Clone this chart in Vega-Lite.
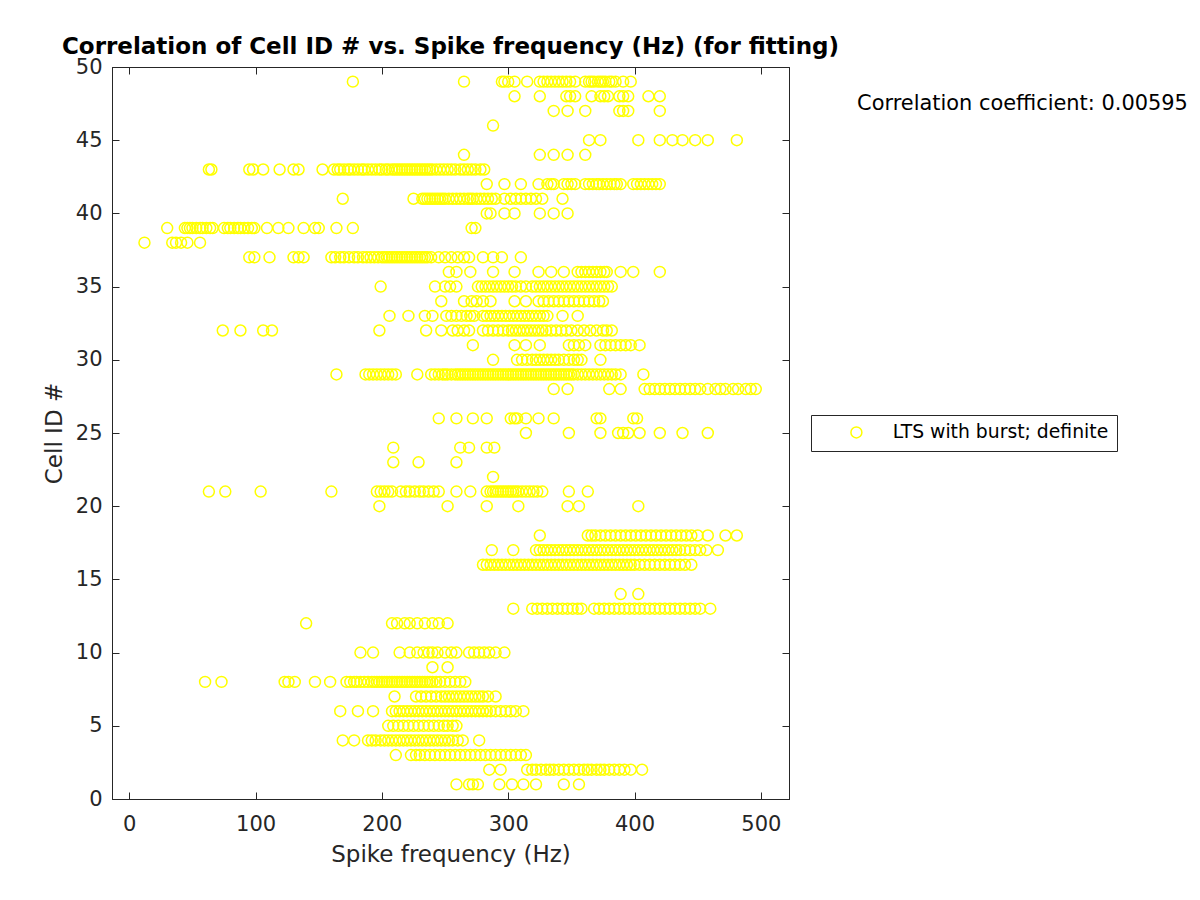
{
"$schema": "https://vega.github.io/schema/vega-lite/v6.json",
"width": 677, "height": 732,
"autosize": {"type": "none"},
"padding": {"left": 112, "top": 67, "right": 411, "bottom": 101},
"background": "white",
"title": {"text": "Correlation of Cell ID # vs. Spike frequency (Hz) (for fitting)", "font": "DejaVu Sans", "fontSize": 23, "fontWeight": "bold", "color": "black", "anchor": "middle", "offset": -3},
"config": {
  "font": "DejaVu Sans",
  "view": {"stroke": "#262626", "strokeWidth": 1},
  "axis": {"grid": false, "domainColor": "#262626", "tickColor": "#262626", "labelColor": "#262626", "titleColor": "#262626", "labelFont": "DejaVu Sans", "titleFont": "DejaVu Sans", "labelFontSize": 21, "titleFontSize": 23, "titleFontWeight": "normal", "tickSize": -7}
},
"layer": [
{
"data": {"values": [
{"id":49,"hz":177},{"id":49,"hz":265},{"id":49,"hz":295},{"id":49,"hz":297},{"id":49,"hz":300},{"id":49,"hz":305},{"id":49,"hz":315},{"id":49,"hz":325},{"id":49,"hz":328},{"id":49,"hz":331},{"id":49,"hz":334},{"id":49,"hz":337},{"id":49,"hz":340},{"id":49,"hz":343},{"id":49,"hz":346},{"id":49,"hz":349},{"id":49,"hz":353},{"id":49,"hz":361},{"id":49,"hz":364},{"id":49,"hz":366},{"id":49,"hz":368},{"id":49,"hz":371},{"id":49,"hz":373},{"id":49,"hz":375},{"id":49,"hz":377},{"id":49,"hz":380},{"id":49,"hz":382},{"id":49,"hz":385},{"id":49,"hz":391},{"id":49,"hz":397},
{"id":48,"hz":305},{"id":48,"hz":325},{"id":48,"hz":346},{"id":48,"hz":349},{"id":48,"hz":353},{"id":48,"hz":366},{"id":48,"hz":373},{"id":48,"hz":376},{"id":48,"hz":379},{"id":48,"hz":388},{"id":48,"hz":391},{"id":48,"hz":395},{"id":48,"hz":411},{"id":48,"hz":420},
{"id":47,"hz":336},{"id":47,"hz":347},{"id":47,"hz":361},{"id":47,"hz":388},{"id":47,"hz":391},{"id":47,"hz":395},{"id":47,"hz":420},
{"id":46,"hz":288},
{"id":45,"hz":364},{"id":45,"hz":373},{"id":45,"hz":403},{"id":45,"hz":420},{"id":45,"hz":430},{"id":45,"hz":438},{"id":45,"hz":448},{"id":45,"hz":458},{"id":45,"hz":481},
{"id":44,"hz":265},{"id":44,"hz":325},{"id":44,"hz":336},{"id":44,"hz":347},{"id":44,"hz":361},
{"id":43,"hz":63},{"id":43,"hz":65},{"id":43,"hz":95},{"id":43,"hz":98},{"id":43,"hz":106},{"id":43,"hz":119},{"id":43,"hz":130},{"id":43,"hz":134},{"id":43,"hz":153},{"id":43,"hz":162},{"id":43,"hz":165},{"id":43,"hz":167},{"id":43,"hz":170},{"id":43,"hz":173},{"id":43,"hz":175},{"id":43,"hz":178},{"id":43,"hz":181},{"id":43,"hz":184},{"id":43,"hz":186},{"id":43,"hz":189},{"id":43,"hz":192},{"id":43,"hz":195},{"id":43,"hz":198},{"id":43,"hz":200},{"id":43,"hz":203},{"id":43,"hz":205},{"id":43,"hz":208},{"id":43,"hz":210},{"id":43,"hz":212},{"id":43,"hz":214},{"id":43,"hz":216},{"id":43,"hz":218},{"id":43,"hz":220},{"id":43,"hz":222},{"id":43,"hz":224},{"id":43,"hz":226},{"id":43,"hz":228},{"id":43,"hz":230},{"id":43,"hz":232},{"id":43,"hz":234},{"id":43,"hz":236},{"id":43,"hz":238},{"id":43,"hz":240},{"id":43,"hz":243},{"id":43,"hz":246},{"id":43,"hz":249},{"id":43,"hz":252},{"id":43,"hz":255},{"id":43,"hz":258},{"id":43,"hz":262},{"id":43,"hz":265},{"id":43,"hz":268},{"id":43,"hz":271},{"id":43,"hz":274},{"id":43,"hz":278},{"id":43,"hz":281},
{"id":42,"hz":283},{"id":42,"hz":297},{"id":42,"hz":310},{"id":42,"hz":324},{"id":42,"hz":331},{"id":42,"hz":334},{"id":42,"hz":336},{"id":42,"hz":344},{"id":42,"hz":347},{"id":42,"hz":350},{"id":42,"hz":353},{"id":42,"hz":361},{"id":42,"hz":364},{"id":42,"hz":367},{"id":42,"hz":370},{"id":42,"hz":372},{"id":42,"hz":375},{"id":42,"hz":378},{"id":42,"hz":381},{"id":42,"hz":384},{"id":42,"hz":386},{"id":42,"hz":389},{"id":42,"hz":399},{"id":42,"hz":402},{"id":42,"hz":405},{"id":42,"hz":408},{"id":42,"hz":411},{"id":42,"hz":414},{"id":42,"hz":417},{"id":42,"hz":420},
{"id":41,"hz":169},{"id":41,"hz":225},{"id":41,"hz":232},{"id":41,"hz":234},{"id":41,"hz":236},{"id":41,"hz":238},{"id":41,"hz":240},{"id":41,"hz":242},{"id":41,"hz":244},{"id":41,"hz":246},{"id":41,"hz":248},{"id":41,"hz":250},{"id":41,"hz":253},{"id":41,"hz":256},{"id":41,"hz":259},{"id":41,"hz":262},{"id":41,"hz":265},{"id":41,"hz":268},{"id":41,"hz":270},{"id":41,"hz":272},{"id":41,"hz":275},{"id":41,"hz":278},{"id":41,"hz":281},{"id":41,"hz":284},{"id":41,"hz":287},{"id":41,"hz":290},{"id":41,"hz":297},{"id":41,"hz":302},{"id":41,"hz":306},{"id":41,"hz":310},{"id":41,"hz":314},{"id":41,"hz":318},{"id":41,"hz":322},{"id":41,"hz":327},{"id":41,"hz":343},
{"id":40,"hz":283},{"id":40,"hz":286},{"id":40,"hz":297},{"id":40,"hz":305},{"id":40,"hz":325},{"id":40,"hz":336},{"id":40,"hz":347},
{"id":39,"hz":30},{"id":39,"hz":44},{"id":39,"hz":46},{"id":39,"hz":48},{"id":39,"hz":50},{"id":39,"hz":53},{"id":39,"hz":56},{"id":39,"hz":58},{"id":39,"hz":61},{"id":39,"hz":64},{"id":39,"hz":66},{"id":39,"hz":75},{"id":39,"hz":78},{"id":39,"hz":80},{"id":39,"hz":83},{"id":39,"hz":86},{"id":39,"hz":88},{"id":39,"hz":91},{"id":39,"hz":94},{"id":39,"hz":97},{"id":39,"hz":99},{"id":39,"hz":109},{"id":39,"hz":118},{"id":39,"hz":126},{"id":39,"hz":138},{"id":39,"hz":147},{"id":39,"hz":150},{"id":39,"hz":164},{"id":39,"hz":177},{"id":39,"hz":271},{"id":39,"hz":274},
{"id":38,"hz":12},{"id":38,"hz":34},{"id":38,"hz":37},{"id":38,"hz":41},{"id":38,"hz":46},{"id":38,"hz":56},
{"id":37,"hz":95},{"id":37,"hz":99},{"id":37,"hz":111},{"id":37,"hz":130},{"id":37,"hz":134},{"id":37,"hz":138},{"id":37,"hz":160},{"id":37,"hz":163},{"id":37,"hz":167},{"id":37,"hz":170},{"id":37,"hz":174},{"id":37,"hz":178},{"id":37,"hz":181},{"id":37,"hz":185},{"id":37,"hz":188},{"id":37,"hz":191},{"id":37,"hz":194},{"id":37,"hz":197},{"id":37,"hz":200},{"id":37,"hz":202},{"id":37,"hz":204},{"id":37,"hz":206},{"id":37,"hz":208},{"id":37,"hz":210},{"id":37,"hz":212},{"id":37,"hz":214},{"id":37,"hz":216},{"id":37,"hz":218},{"id":37,"hz":220},{"id":37,"hz":222},{"id":37,"hz":224},{"id":37,"hz":226},{"id":37,"hz":228},{"id":37,"hz":230},{"id":37,"hz":232},{"id":37,"hz":234},{"id":37,"hz":236},{"id":37,"hz":239},{"id":37,"hz":245},{"id":37,"hz":250},{"id":37,"hz":255},{"id":37,"hz":260},{"id":37,"hz":265},{"id":37,"hz":269},{"id":37,"hz":280},{"id":37,"hz":288},{"id":37,"hz":295},{"id":37,"hz":310},
{"id":36,"hz":253},{"id":36,"hz":259},{"id":36,"hz":270},{"id":36,"hz":288},{"id":36,"hz":305},{"id":36,"hz":324},{"id":36,"hz":334},{"id":36,"hz":344},{"id":36,"hz":355},{"id":36,"hz":358},{"id":36,"hz":361},{"id":36,"hz":364},{"id":36,"hz":367},{"id":36,"hz":370},{"id":36,"hz":373},{"id":36,"hz":376},{"id":36,"hz":378},{"id":36,"hz":389},{"id":36,"hz":399},{"id":36,"hz":420},
{"id":35,"hz":199},{"id":35,"hz":242},{"id":35,"hz":250},{"id":35,"hz":254},{"id":35,"hz":259},{"id":35,"hz":276},{"id":35,"hz":279},{"id":35,"hz":282},{"id":35,"hz":285},{"id":35,"hz":288},{"id":35,"hz":291},{"id":35,"hz":294},{"id":35,"hz":297},{"id":35,"hz":300},{"id":35,"hz":303},{"id":35,"hz":306},{"id":35,"hz":310},{"id":35,"hz":314},{"id":35,"hz":319},{"id":35,"hz":322},{"id":35,"hz":325},{"id":35,"hz":328},{"id":35,"hz":331},{"id":35,"hz":334},{"id":35,"hz":337},{"id":35,"hz":340},{"id":35,"hz":343},{"id":35,"hz":346},{"id":35,"hz":349},{"id":35,"hz":352},{"id":35,"hz":355},{"id":35,"hz":358},{"id":35,"hz":361},{"id":35,"hz":364},{"id":35,"hz":367},{"id":35,"hz":370},{"id":35,"hz":373},{"id":35,"hz":376},{"id":35,"hz":379},{"id":35,"hz":382},
{"id":34,"hz":247},{"id":34,"hz":265},{"id":34,"hz":271},{"id":34,"hz":275},{"id":34,"hz":280},{"id":34,"hz":286},{"id":34,"hz":305},{"id":34,"hz":314},{"id":34,"hz":324},{"id":34,"hz":328},{"id":34,"hz":332},{"id":34,"hz":336},{"id":34,"hz":340},{"id":34,"hz":344},{"id":34,"hz":348},{"id":34,"hz":352},{"id":34,"hz":356},{"id":34,"hz":360},{"id":34,"hz":364},{"id":34,"hz":368},{"id":34,"hz":372},{"id":34,"hz":375},
{"id":33,"hz":206},{"id":33,"hz":221},{"id":33,"hz":234},{"id":33,"hz":240},{"id":33,"hz":251},{"id":33,"hz":255},{"id":33,"hz":259},{"id":33,"hz":263},{"id":33,"hz":267},{"id":33,"hz":270},{"id":33,"hz":273},{"id":33,"hz":280},{"id":33,"hz":283},{"id":33,"hz":286},{"id":33,"hz":289},{"id":33,"hz":292},{"id":33,"hz":295},{"id":33,"hz":298},{"id":33,"hz":301},{"id":33,"hz":304},{"id":33,"hz":307},{"id":33,"hz":310},{"id":33,"hz":313},{"id":33,"hz":316},{"id":33,"hz":319},{"id":33,"hz":322},{"id":33,"hz":325},{"id":33,"hz":328},{"id":33,"hz":331},{"id":33,"hz":343},{"id":33,"hz":355},
{"id":32,"hz":74},{"id":32,"hz":88},{"id":32,"hz":106},{"id":32,"hz":113},{"id":32,"hz":198},{"id":32,"hz":235},{"id":32,"hz":247},{"id":32,"hz":256},{"id":32,"hz":260},{"id":32,"hz":265},{"id":32,"hz":269},{"id":32,"hz":280},{"id":32,"hz":284},{"id":32,"hz":288},{"id":32,"hz":292},{"id":32,"hz":296},{"id":32,"hz":300},{"id":32,"hz":303},{"id":32,"hz":306},{"id":32,"hz":309},{"id":32,"hz":312},{"id":32,"hz":315},{"id":32,"hz":318},{"id":32,"hz":321},{"id":32,"hz":324},{"id":32,"hz":327},{"id":32,"hz":330},{"id":32,"hz":334},{"id":32,"hz":338},{"id":32,"hz":342},{"id":32,"hz":346},{"id":32,"hz":350},{"id":32,"hz":355},{"id":32,"hz":360},{"id":32,"hz":365},{"id":32,"hz":370},{"id":32,"hz":375},{"id":32,"hz":378},{"id":32,"hz":382},
{"id":31,"hz":272},{"id":31,"hz":305},{"id":31,"hz":314},{"id":31,"hz":325},{"id":31,"hz":348},{"id":31,"hz":352},{"id":31,"hz":356},{"id":31,"hz":361},{"id":31,"hz":373},{"id":31,"hz":377},{"id":31,"hz":381},{"id":31,"hz":385},{"id":31,"hz":389},{"id":31,"hz":393},{"id":31,"hz":397},{"id":31,"hz":404},
{"id":30,"hz":288},{"id":30,"hz":307},{"id":30,"hz":311},{"id":30,"hz":315},{"id":30,"hz":319},{"id":30,"hz":322},{"id":30,"hz":325},{"id":30,"hz":328},{"id":30,"hz":331},{"id":30,"hz":334},{"id":30,"hz":337},{"id":30,"hz":340},{"id":30,"hz":344},{"id":30,"hz":348},{"id":30,"hz":352},{"id":30,"hz":355},{"id":30,"hz":358},{"id":30,"hz":373},
{"id":29,"hz":164},{"id":29,"hz":187},{"id":29,"hz":190},{"id":29,"hz":193},{"id":29,"hz":196},{"id":29,"hz":199},{"id":29,"hz":202},{"id":29,"hz":205},{"id":29,"hz":208},{"id":29,"hz":211},{"id":29,"hz":228},{"id":29,"hz":239},{"id":29,"hz":242},{"id":29,"hz":245},{"id":29,"hz":248},{"id":29,"hz":250},{"id":29,"hz":252},{"id":29,"hz":255},{"id":29,"hz":258},{"id":29,"hz":260},{"id":29,"hz":262},{"id":29,"hz":264},{"id":29,"hz":266},{"id":29,"hz":268},{"id":29,"hz":270},{"id":29,"hz":272},{"id":29,"hz":274},{"id":29,"hz":276},{"id":29,"hz":278},{"id":29,"hz":280},{"id":29,"hz":282},{"id":29,"hz":284},{"id":29,"hz":286},{"id":29,"hz":288},{"id":29,"hz":290},{"id":29,"hz":292},{"id":29,"hz":294},{"id":29,"hz":296},{"id":29,"hz":298},{"id":29,"hz":300},{"id":29,"hz":302},{"id":29,"hz":304},{"id":29,"hz":306},{"id":29,"hz":308},{"id":29,"hz":310},{"id":29,"hz":312},{"id":29,"hz":314},{"id":29,"hz":316},{"id":29,"hz":318},{"id":29,"hz":320},{"id":29,"hz":322},{"id":29,"hz":324},{"id":29,"hz":326},{"id":29,"hz":328},{"id":29,"hz":330},{"id":29,"hz":332},{"id":29,"hz":334},{"id":29,"hz":336},{"id":29,"hz":338},{"id":29,"hz":340},{"id":29,"hz":342},{"id":29,"hz":344},{"id":29,"hz":346},{"id":29,"hz":348},{"id":29,"hz":350},{"id":29,"hz":352},{"id":29,"hz":355},{"id":29,"hz":358},{"id":29,"hz":361},{"id":29,"hz":364},{"id":29,"hz":367},{"id":29,"hz":370},{"id":29,"hz":373},{"id":29,"hz":376},{"id":29,"hz":379},{"id":29,"hz":382},{"id":29,"hz":385},{"id":29,"hz":389},{"id":29,"hz":407},
{"id":28,"hz":336},{"id":28,"hz":347},{"id":28,"hz":380},{"id":28,"hz":389},{"id":28,"hz":408},{"id":28,"hz":412},{"id":28,"hz":416},{"id":28,"hz":420},{"id":28,"hz":424},{"id":28,"hz":428},{"id":28,"hz":432},{"id":28,"hz":436},{"id":28,"hz":440},{"id":28,"hz":444},{"id":28,"hz":448},{"id":28,"hz":452},{"id":28,"hz":458},{"id":28,"hz":464},{"id":28,"hz":468},{"id":28,"hz":472},{"id":28,"hz":478},{"id":28,"hz":482},{"id":28,"hz":488},{"id":28,"hz":492},{"id":28,"hz":496},
{"id":26,"hz":245},{"id":26,"hz":259},{"id":26,"hz":272},{"id":26,"hz":283},{"id":26,"hz":302},{"id":26,"hz":305},{"id":26,"hz":307},{"id":26,"hz":314},{"id":26,"hz":324},{"id":26,"hz":336},{"id":26,"hz":370},{"id":26,"hz":373},{"id":26,"hz":399},{"id":26,"hz":402},
{"id":25,"hz":314},{"id":25,"hz":348},{"id":25,"hz":373},{"id":25,"hz":387},{"id":25,"hz":391},{"id":25,"hz":395},{"id":25,"hz":404},{"id":25,"hz":420},{"id":25,"hz":438},{"id":25,"hz":458},
{"id":24,"hz":209},{"id":24,"hz":262},{"id":24,"hz":269},{"id":24,"hz":283},{"id":24,"hz":289},
{"id":23,"hz":209},{"id":23,"hz":229},{"id":23,"hz":259},
{"id":22,"hz":288},
{"id":21,"hz":63},{"id":21,"hz":76},{"id":21,"hz":104},{"id":21,"hz":160},{"id":21,"hz":196},{"id":21,"hz":199},{"id":21,"hz":202},{"id":21,"hz":205},{"id":21,"hz":208},{"id":21,"hz":215},{"id":21,"hz":219},{"id":21,"hz":222},{"id":21,"hz":226},{"id":21,"hz":230},{"id":21,"hz":233},{"id":21,"hz":237},{"id":21,"hz":241},{"id":21,"hz":245},{"id":21,"hz":259},{"id":21,"hz":270},{"id":21,"hz":283},{"id":21,"hz":286},{"id":21,"hz":288},{"id":21,"hz":290},{"id":21,"hz":292},{"id":21,"hz":294},{"id":21,"hz":296},{"id":21,"hz":298},{"id":21,"hz":300},{"id":21,"hz":302},{"id":21,"hz":304},{"id":21,"hz":306},{"id":21,"hz":308},{"id":21,"hz":311},{"id":21,"hz":314},{"id":21,"hz":317},{"id":21,"hz":320},{"id":21,"hz":323},{"id":21,"hz":327},{"id":21,"hz":348},{"id":21,"hz":363},
{"id":20,"hz":198},{"id":20,"hz":252},{"id":20,"hz":283},{"id":20,"hz":308},{"id":20,"hz":347},{"id":20,"hz":356},{"id":20,"hz":403},
{"id":18,"hz":325},{"id":18,"hz":363},{"id":18,"hz":366},{"id":18,"hz":369},{"id":18,"hz":373},{"id":18,"hz":377},{"id":18,"hz":381},{"id":18,"hz":385},{"id":18,"hz":389},{"id":18,"hz":393},{"id":18,"hz":397},{"id":18,"hz":401},{"id":18,"hz":405},{"id":18,"hz":409},{"id":18,"hz":413},{"id":18,"hz":417},{"id":18,"hz":421},{"id":18,"hz":425},{"id":18,"hz":429},{"id":18,"hz":433},{"id":18,"hz":437},{"id":18,"hz":441},{"id":18,"hz":445},{"id":18,"hz":450},{"id":18,"hz":458},{"id":18,"hz":472},{"id":18,"hz":481},
{"id":17,"hz":287},{"id":17,"hz":304},{"id":17,"hz":322},{"id":17,"hz":325},{"id":17,"hz":328},{"id":17,"hz":331},{"id":17,"hz":334},{"id":17,"hz":337},{"id":17,"hz":340},{"id":17,"hz":343},{"id":17,"hz":346},{"id":17,"hz":349},{"id":17,"hz":352},{"id":17,"hz":355},{"id":17,"hz":358},{"id":17,"hz":361},{"id":17,"hz":364},{"id":17,"hz":367},{"id":17,"hz":370},{"id":17,"hz":373},{"id":17,"hz":376},{"id":17,"hz":379},{"id":17,"hz":382},{"id":17,"hz":385},{"id":17,"hz":388},{"id":17,"hz":391},{"id":17,"hz":394},{"id":17,"hz":397},{"id":17,"hz":400},{"id":17,"hz":403},{"id":17,"hz":406},{"id":17,"hz":409},{"id":17,"hz":412},{"id":17,"hz":415},{"id":17,"hz":418},{"id":17,"hz":421},{"id":17,"hz":424},{"id":17,"hz":427},{"id":17,"hz":430},{"id":17,"hz":433},{"id":17,"hz":436},{"id":17,"hz":440},{"id":17,"hz":444},{"id":17,"hz":448},{"id":17,"hz":452},{"id":17,"hz":457},{"id":17,"hz":466},
{"id":16,"hz":280},{"id":16,"hz":283},{"id":16,"hz":286},{"id":16,"hz":289},{"id":16,"hz":292},{"id":16,"hz":295},{"id":16,"hz":298},{"id":16,"hz":301},{"id":16,"hz":304},{"id":16,"hz":307},{"id":16,"hz":310},{"id":16,"hz":313},{"id":16,"hz":316},{"id":16,"hz":319},{"id":16,"hz":322},{"id":16,"hz":325},{"id":16,"hz":328},{"id":16,"hz":331},{"id":16,"hz":334},{"id":16,"hz":337},{"id":16,"hz":340},{"id":16,"hz":343},{"id":16,"hz":346},{"id":16,"hz":349},{"id":16,"hz":352},{"id":16,"hz":355},{"id":16,"hz":358},{"id":16,"hz":361},{"id":16,"hz":364},{"id":16,"hz":367},{"id":16,"hz":370},{"id":16,"hz":373},{"id":16,"hz":376},{"id":16,"hz":379},{"id":16,"hz":382},{"id":16,"hz":385},{"id":16,"hz":388},{"id":16,"hz":391},{"id":16,"hz":394},{"id":16,"hz":397},{"id":16,"hz":400},{"id":16,"hz":404},{"id":16,"hz":408},{"id":16,"hz":412},{"id":16,"hz":416},{"id":16,"hz":420},{"id":16,"hz":424},{"id":16,"hz":428},{"id":16,"hz":432},{"id":16,"hz":436},{"id":16,"hz":440},{"id":16,"hz":445},
{"id":14,"hz":389},{"id":14,"hz":403},
{"id":13,"hz":304},{"id":13,"hz":319},{"id":13,"hz":323},{"id":13,"hz":327},{"id":13,"hz":331},{"id":13,"hz":335},{"id":13,"hz":339},{"id":13,"hz":343},{"id":13,"hz":347},{"id":13,"hz":351},{"id":13,"hz":355},{"id":13,"hz":358},{"id":13,"hz":368},{"id":13,"hz":372},{"id":13,"hz":376},{"id":13,"hz":380},{"id":13,"hz":384},{"id":13,"hz":388},{"id":13,"hz":392},{"id":13,"hz":396},{"id":13,"hz":400},{"id":13,"hz":404},{"id":13,"hz":408},{"id":13,"hz":412},{"id":13,"hz":416},{"id":13,"hz":420},{"id":13,"hz":424},{"id":13,"hz":428},{"id":13,"hz":432},{"id":13,"hz":436},{"id":13,"hz":440},{"id":13,"hz":444},{"id":13,"hz":448},{"id":13,"hz":452},{"id":13,"hz":460},
{"id":12,"hz":140},{"id":12,"hz":208},{"id":12,"hz":212},{"id":12,"hz":218},{"id":12,"hz":222},{"id":12,"hz":228},{"id":12,"hz":234},{"id":12,"hz":240},{"id":12,"hz":245},{"id":12,"hz":252},
{"id":10,"hz":183},{"id":10,"hz":193},{"id":10,"hz":214},{"id":10,"hz":222},{"id":10,"hz":228},{"id":10,"hz":233},{"id":10,"hz":237},{"id":10,"hz":240},{"id":10,"hz":244},{"id":10,"hz":250},{"id":10,"hz":255},{"id":10,"hz":259},{"id":10,"hz":269},{"id":10,"hz":273},{"id":10,"hz":277},{"id":10,"hz":281},{"id":10,"hz":285},{"id":10,"hz":290},{"id":10,"hz":297},
{"id":9,"hz":240},{"id":9,"hz":252},
{"id":8,"hz":60},{"id":8,"hz":73},{"id":8,"hz":123},{"id":8,"hz":126},{"id":8,"hz":131},{"id":8,"hz":147},{"id":8,"hz":159},{"id":8,"hz":172},{"id":8,"hz":175},{"id":8,"hz":178},{"id":8,"hz":180},{"id":8,"hz":183},{"id":8,"hz":186},{"id":8,"hz":189},{"id":8,"hz":192},{"id":8,"hz":194},{"id":8,"hz":196},{"id":8,"hz":198},{"id":8,"hz":200},{"id":8,"hz":202},{"id":8,"hz":204},{"id":8,"hz":206},{"id":8,"hz":208},{"id":8,"hz":210},{"id":8,"hz":212},{"id":8,"hz":214},{"id":8,"hz":216},{"id":8,"hz":218},{"id":8,"hz":220},{"id":8,"hz":222},{"id":8,"hz":224},{"id":8,"hz":226},{"id":8,"hz":228},{"id":8,"hz":230},{"id":8,"hz":232},{"id":8,"hz":234},{"id":8,"hz":236},{"id":8,"hz":238},{"id":8,"hz":240},{"id":8,"hz":243},{"id":8,"hz":246},{"id":8,"hz":250},{"id":8,"hz":254},{"id":8,"hz":258},{"id":8,"hz":262},{"id":8,"hz":266},
{"id":7,"hz":210},{"id":7,"hz":227},{"id":7,"hz":231},{"id":7,"hz":235},{"id":7,"hz":239},{"id":7,"hz":243},{"id":7,"hz":247},{"id":7,"hz":250},{"id":7,"hz":253},{"id":7,"hz":256},{"id":7,"hz":259},{"id":7,"hz":262},{"id":7,"hz":265},{"id":7,"hz":268},{"id":7,"hz":271},{"id":7,"hz":274},{"id":7,"hz":277},{"id":7,"hz":280},{"id":7,"hz":284},{"id":7,"hz":290},
{"id":6,"hz":167},{"id":6,"hz":181},{"id":6,"hz":193},{"id":6,"hz":208},{"id":6,"hz":211},{"id":6,"hz":214},{"id":6,"hz":217},{"id":6,"hz":220},{"id":6,"hz":223},{"id":6,"hz":226},{"id":6,"hz":229},{"id":6,"hz":232},{"id":6,"hz":235},{"id":6,"hz":238},{"id":6,"hz":241},{"id":6,"hz":244},{"id":6,"hz":247},{"id":6,"hz":250},{"id":6,"hz":253},{"id":6,"hz":256},{"id":6,"hz":259},{"id":6,"hz":262},{"id":6,"hz":265},{"id":6,"hz":268},{"id":6,"hz":271},{"id":6,"hz":274},{"id":6,"hz":277},{"id":6,"hz":280},{"id":6,"hz":283},{"id":6,"hz":286},{"id":6,"hz":290},{"id":6,"hz":294},{"id":6,"hz":298},{"id":6,"hz":302},{"id":6,"hz":306},{"id":6,"hz":312},
{"id":5,"hz":205},{"id":5,"hz":209},{"id":5,"hz":213},{"id":5,"hz":217},{"id":5,"hz":221},{"id":5,"hz":225},{"id":5,"hz":229},{"id":5,"hz":233},{"id":5,"hz":237},{"id":5,"hz":241},{"id":5,"hz":245},{"id":5,"hz":249},{"id":5,"hz":252},{"id":5,"hz":256},{"id":5,"hz":259},
{"id":4,"hz":169},{"id":4,"hz":178},{"id":4,"hz":189},{"id":4,"hz":192},{"id":4,"hz":195},{"id":4,"hz":199},{"id":4,"hz":202},{"id":4,"hz":205},{"id":4,"hz":208},{"id":4,"hz":211},{"id":4,"hz":214},{"id":4,"hz":217},{"id":4,"hz":220},{"id":4,"hz":223},{"id":4,"hz":226},{"id":4,"hz":229},{"id":4,"hz":232},{"id":4,"hz":235},{"id":4,"hz":238},{"id":4,"hz":241},{"id":4,"hz":244},{"id":4,"hz":247},{"id":4,"hz":250},{"id":4,"hz":253},{"id":4,"hz":256},{"id":4,"hz":260},{"id":4,"hz":264},{"id":4,"hz":277},
{"id":3,"hz":211},{"id":3,"hz":223},{"id":3,"hz":227},{"id":3,"hz":230},{"id":3,"hz":234},{"id":3,"hz":238},{"id":3,"hz":242},{"id":3,"hz":246},{"id":3,"hz":250},{"id":3,"hz":254},{"id":3,"hz":258},{"id":3,"hz":262},{"id":3,"hz":266},{"id":3,"hz":270},{"id":3,"hz":274},{"id":3,"hz":278},{"id":3,"hz":282},{"id":3,"hz":286},{"id":3,"hz":290},{"id":3,"hz":294},{"id":3,"hz":298},{"id":3,"hz":302},{"id":3,"hz":306},{"id":3,"hz":310},{"id":3,"hz":314},
{"id":2,"hz":285},{"id":2,"hz":294},{"id":2,"hz":315},{"id":2,"hz":319},{"id":2,"hz":322},{"id":2,"hz":326},{"id":2,"hz":330},{"id":2,"hz":333},{"id":2,"hz":336},{"id":2,"hz":340},{"id":2,"hz":344},{"id":2,"hz":348},{"id":2,"hz":352},{"id":2,"hz":356},{"id":2,"hz":360},{"id":2,"hz":363},{"id":2,"hz":366},{"id":2,"hz":370},{"id":2,"hz":373},{"id":2,"hz":376},{"id":2,"hz":380},{"id":2,"hz":384},{"id":2,"hz":388},{"id":2,"hz":392},{"id":2,"hz":397},{"id":2,"hz":406},
{"id":1,"hz":259},{"id":1,"hz":269},{"id":1,"hz":272},{"id":1,"hz":276},{"id":1,"hz":293},{"id":1,"hz":303},{"id":1,"hz":312},{"id":1,"hz":322},{"id":1,"hz":344},{"id":1,"hz":356}
]},
"mark": {"type": "point", "shape": "circle", "filled": false, "size": 120, "strokeWidth": 1.5, "opacity": 1},
"encoding": {
  "x": {"field": "hz", "type": "quantitative", "title": "Spike frequency (Hz)", "scale": {"domain": [-13.7, 522.3], "nice": false, "zero": false}, "axis": {"values": [0,100,200,300,400,500], "labelPadding": 21, "titlePadding": 9}},
  "y": {"field": "id", "type": "quantitative", "title": "Cell ID #", "scale": {"domain": [0, 50], "nice": false, "zero": false}, "axis": {"values": [0,5,10,15,20,25,30,35,40,45,50], "labelPadding": 17, "titlePadding": 9}},
  "color": {"datum": "LTS with burst; definite", "type": "nominal", "scale": {"range": ["#ffff00"]}, "legend": {"title": null, "orient": "none", "legendX": 699, "legendY": 348, "strokeColor": "#262626", "fillColor": "white", "padding": 8, "symbolOffset": 28, "labelOffset": 27, "labelFontSize": 18.8, "labelFont": "DejaVu Sans", "labelColor": "black", "symbolSize": 120, "symbolStrokeWidth": 1.5, "symbolType": "circle", "labelLimit": 400}}
}
},
{
"data": {"values": [{}]},
"mark": {"type": "text", "align": "left", "baseline": "middle", "fontSize": 20.9, "font": "DejaVu Sans", "color": "black"},
"encoding": {
  "x": {"datum": 576.2, "type": "quantitative", "axis": {"orient": "top", "labels": false, "title": null, "values": [0,100,200,300,400,500]}},
  "y": {"datum": 47.47, "type": "quantitative", "axis": {"orient": "right", "labels": false, "title": null, "values": [0,5,10,15,20,25,30,35,40,45,50]}},
  "text": {"value": "Correlation coefficient: 0.00595"}
}
}
],
"resolve": {"axis": {"x": "independent", "y": "independent"}}
}
